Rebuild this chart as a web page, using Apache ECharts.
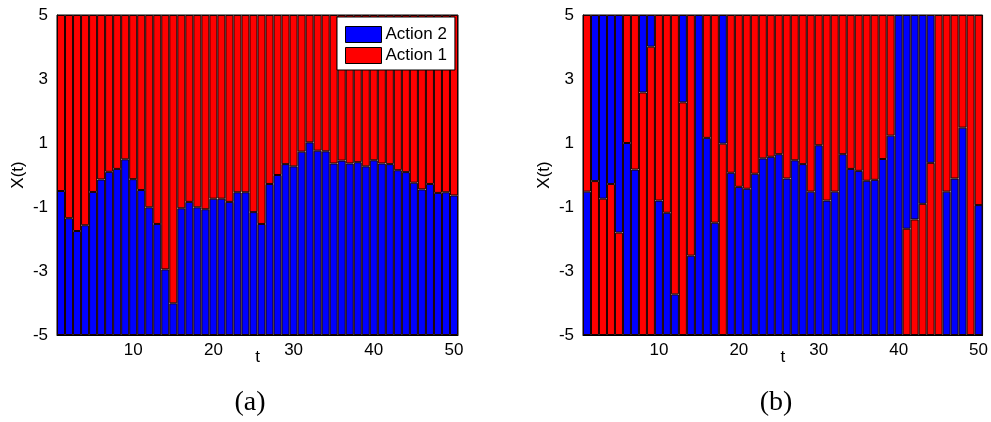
<!DOCTYPE html>
<html>
<head>
<meta charset="utf-8">
<script src="https://cdn.jsdelivr.net/npm/echarts@6/dist/echarts.min.js"></script>
<style>
  html, body { margin: 0; padding: 0; background: #fff; }
  #chart { width: 991px; height: 422px; }
</style>
</head>
<body>
<div id="chart"></div>
<script>
// Time steps t = 1..50
const steps = Array.from({ length: 50 }, (_, i) => String(i + 1));

// Panel (a): state X(t); Action 2 fills from -5 up to X(t), Action 1 from X(t) up to 5
const stateA = [
  -0.50, -1.35, -1.75, -1.57, -0.53, -0.14, 0.10, 0.19, 0.49, -0.13,
  -0.47, -1.01, -1.53, -2.95, -4.01, -1.04, -0.84, -1.01, -1.07, -0.74,
  -0.74, -0.84, -0.54, -0.54, -1.16, -1.53, -0.28, 0.00, 0.34, 0.27,
  0.73, 1.02, 0.76, 0.74, 0.36, 0.45, 0.36, 0.40, 0.27, 0.46,
  0.36, 0.34, 0.15, 0.09, -0.24, -0.45, -0.28, -0.56, -0.54, -0.64
];

// Panel (b): state X(t) and which action occupies the part below X(t)
const stateB = [
  -0.52, -0.19, -0.74, -0.28, -1.80, 1.00, 0.17, 2.58, 4.01, -0.80,
  -1.18, -3.73, 2.27, -2.52, 5.00, 1.16, -1.49, 0.98, 0.07, -0.37,
  -0.43, 0.04, 0.52, 0.57, 0.65, -0.11, 0.46, 0.34, -0.52, 0.93,
  -0.80, -0.52, 0.65, 0.19, 0.13, -0.18, -0.15, 0.50, 1.23, 5.00,
  -1.68, -1.39, -0.90, 0.38, 5.00, -0.52, -0.11, 1.48, 5.00, -0.94
];
const lowerActionB = [
  2, 1, 1, 1, 1, 2, 2, 1, 1, 2,
  2, 2, 1, 2, 2, 2, 2, 1, 2, 2,
  2, 2, 2, 2, 2, 2, 2, 2, 2, 2,
  2, 2, 2, 2, 2, 2, 2, 2, 2, 2,
  1, 1, 1, 1, 1, 2, 2, 2, 1, 2
];

// Axis range and tick labels
const yMin = -5;
const yMax = 5;
const yTicks = [-5, -3, -1, 1, 3, 5];
const xTickSteps = [10, 20, 30, 40, 50];
const panelLabels = ['(a)', '(b)'];
const legendNames = ['Action 2', 'Action 1'];

const BLUE = '#0000ff';
const RED = '#ff0000';
const FONT = '"Liberation Sans", Arial, sans-serif';

// Bars stack upward from the bottom of the axis (value axis counts from yMin)
const below = x => +(x - yMin).toFixed(4);
const above = x => +(yMax - x).toFixed(4);

// Empty segments get no outline so they leave no stray edge line
const seg = v => v > 0 ? v : { value: 0, itemStyle: { borderWidth: 0, opacity: 0 } };

const aLower = stateA.map(x => seg(below(x)));
const aUpper = stateA.map(x => seg(above(x)));

const bLowerBlue = stateB.map((x, i) => seg(lowerActionB[i] === 2 ? below(x) : 0));
const bLowerRed  = stateB.map((x, i) => seg(lowerActionB[i] === 1 ? below(x) : 0));
const bUpperBlue = stateB.map((x, i) => seg(lowerActionB[i] === 1 ? above(x) : 0));
const bUpperRed  = stateB.map((x, i) => seg(lowerActionB[i] === 2 ? above(x) : 0));

const grids = [
  { left: 57, top: 15, width: 401, height: 320 },
  { left: 583, top: 15, width: 402, height: 320 }
];
const panelLabelX = [250, 776];

function xAxisFor(gi) {
  return {
    type: 'category', gridIndex: gi, data: steps,
    name: 't', nameLocation: 'middle', nameGap: 14, nameMoveOverlap: false,
    nameTextStyle: { fontFamily: FONT, fontSize: 17, color: '#000' },
    boundaryGap: true,
    axisLine: { show: true, lineStyle: { color: '#000', width: 1 } },
    axisTick: { show: false },
    axisLabel: {
      fontFamily: FONT, fontSize: 17, color: '#000', margin: 7,
      interval: (idx) => xTickSteps.includes(idx + 1)
    },
    splitLine: { show: false }
  };
}

function yAxisFor(gi) {
  return {
    type: 'value', gridIndex: gi,
    min: 0, max: yMax - yMin, interval: 2,
    name: 'X(t)', nameLocation: 'middle', nameGap: 30, nameRotate: 90, nameMoveOverlap: false,
    nameTextStyle: { fontFamily: FONT, fontSize: 17, color: '#000' },
    axisLine: { show: true, lineStyle: { color: '#000', width: 1 } },
    axisTick: { show: false },
    axisLabel: {
      fontFamily: FONT, fontSize: 17, color: '#000', margin: 9,
      formatter: v => String(yTicks[Math.round(v / 2)])
    },
    splitLine: { show: false }
  };
}

function barSeries(name, gi, data, color) {
  return {
    name, type: 'bar', xAxisIndex: gi, yAxisIndex: gi,
    stack: 'panel' + gi, data,
    barWidth: '100%', barCategoryGap: 0,
    itemStyle: { color, borderColor: '#1a0000', borderWidth: 1 },
    emphasis: { disabled: true },
    animation: false
  };
}

const chart = echarts.init(document.getElementById('chart'), null, { renderer: 'canvas' });

chart.setOption({
  backgroundColor: '#fff',
  animation: false,
  grid: grids.map(g => Object.assign({
    show: true, borderColor: '#000', borderWidth: 1, backgroundColor: 'transparent', containLabel: false
  }, g)),
  xAxis: [xAxisFor(0), xAxisFor(1)],
  yAxis: [yAxisFor(0), yAxisFor(1)],
  legend: {
    data: legendNames,
    orient: 'vertical',
    left: 337, top: 17,
    width: 117,
    padding: [9, 8, 6, 8],
    itemGap: 4,
    itemWidth: 36, itemHeight: 16,
    backgroundColor: '#fff',
    borderColor: '#000', borderWidth: 1, borderRadius: 0,
    icon: 'rect',
    itemStyle: { borderColor: '#000', borderWidth: 1, opacity: 1 },
    textStyle: { fontFamily: FONT, fontSize: 17, color: '#000', padding: [0, 0, 0, -1] },
    selectedMode: false
  },
  graphic: panelLabels.map((txt, i) => ({
    type: 'text',
    x: panelLabelX[i],
    y: 403,
    style: {
      text: txt, fill: '#000',
      font: '28px "Liberation Serif", "Times New Roman", serif',
      align: 'center', verticalAlign: 'middle'
    }
  })),
  series: [
    barSeries('Action 2', 0, aLower, BLUE),
    barSeries('Action 1', 0, aUpper, RED),
    barSeries('Action 2', 1, bLowerBlue, BLUE),
    barSeries('Action 1', 1, bLowerRed, RED),
    barSeries('Action 2', 1, bUpperBlue, BLUE),
    barSeries('Action 1', 1, bUpperRed, RED)
  ]
});
</script>
</body>
</html>
